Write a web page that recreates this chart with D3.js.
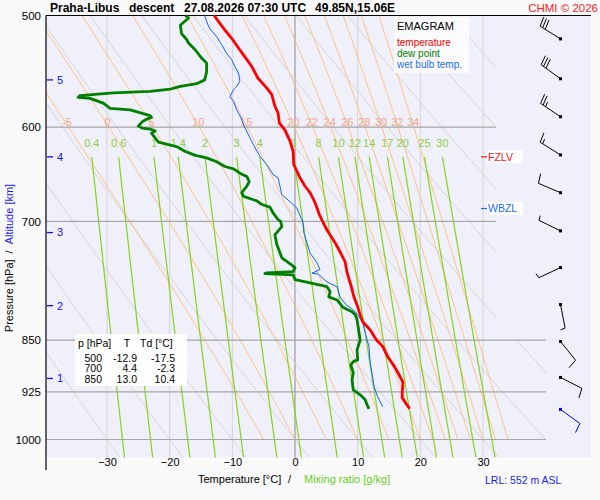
<!DOCTYPE html>
<html>
<head>
<meta charset="utf-8">
<script src="https://cdn.jsdelivr.net/npm/d3@7"></script>
<style>
  body { margin: 0; background: #fafafa; }
  svg { display: block; font-family: "Liberation Sans", Arial, sans-serif; }
</style>
</head>
<body>
<div id="emagram"></div>
<script>
// sounding: [pressure hPa, value degC]
const temperature = [[500,-12.9],[505,-12.2],[512,-11.2],[519,-10.1],[527.5,-9.0],[535,-8.0],[543.5,-6.9],[554,-5.9],[563,-4.5],[569,-3.7],[580,-3.2],[586.5,-2.7],[596,-2.5],[603,-1.6],[614,-0.8],[624.5,-0.3],[638,-0.2],[652,0.8],[661,1.6],[668,2.4],[679,3.2],[692.5,3.9],[700,4.4],[710,5.1],[725,6.4],[736,7.2],[748,8.0],[761,8.3],[776.5,8.9],[792,9.4],[805,10.0],[818,10.5],[825,10.8],[836,12.0],[850,13.0],[859,14.0],[873.5,14.8],[888,15.9],[899.5,16.6],[910,17.2],[917,17.2],[925,17.1],[934,17.1],[943,17.7],[951,18.3]];
const dewPoint = [[500,-17.5],[502,-17.0],[508,-18.3],[515,-18.1],[520,-17.3],[523,-17.0],[529,-15.9],[536,-14.9],[540.5,-14.1],[548,-14.1],[555.5,-14.4],[559,-15.7],[561.5,-18.3],[564,-19.9],[566,-23.1],[567.5,-29.0],[570,-34.3],[571.5,-34.6],[572.5,-32.7],[577,-30.6],[582,-29.5],[583.5,-26.3],[589,-23.1],[590.5,-22.9],[593,-23.9],[595,-24.4],[599,-25.0],[601,-24.4],[602,-23.1],[604,-22.3],[606,-22.9],[611,-22.3],[615,-21.8],[617,-20.5],[619.5,-18.9],[624.5,-17.5],[628.5,-15.9],[631,-14.1],[635,-12.5],[640,-11.2],[642.5,-9.8],[647,-8.8],[650.5,-7.7],[656,-7.3],[661,-7.7],[668,-8.5],[672,-8.2],[677,-6.1],[681,-5.3],[684,-4.0],[690.5,-3.5],[698,-2.7],[700,-2.3],[706,-2.1],[715.5,-3.2],[727,-2.9],[737,-2.4],[743,-2.1],[751.5,-0.6],[755,0.0],[760,-0.3],[761.5,-4.5],[762.5,-4.8],[764,-0.3],[770,0.0],[774,2.4],[779,5.1],[785,5.6],[792,5.4],[796,6.7],[806,7.7],[811.5,9.1],[815.5,9.6],[822,9.9],[850,10.4],[863.5,9.9],[878,10.0],[880.5,9.3],[885,8.9],[896.5,9.3],[907,9.1],[922,9.3],[929.5,10.4],[937,11.2],[945,11.5],[951,11.8]];
const wetBulb = [[500,-14.4],[505,-14.1],[511,-13.6],[517.5,-12.5],[524.5,-11.7],[532,-10.9],[537.5,-10.1],[543.5,-9.6],[549.5,-9.0],[557,-8.8],[561.5,-9.3],[564.5,-9.8],[571,-10.4],[575.5,-9.8],[583.5,-9.3],[590,-8.7],[598,-8.2],[614.5,-6.9],[629.5,-5.6],[638,-4.5],[648.5,-3.5],[652,-2.7],[670,-2.1],[676,-1.1],[685,0.3],[702,1.3],[713,1.4],[737,2.4],[749,3.5],[757.5,4.0],[762,2.7],[763,3.7],[773,5.1],[779,6.7],[792,7.2],[802,8.1],[809,9.3],[815.5,10.0],[826,10.8],[843,11.3],[859,11.8],[882,12.0],[904,12.4],[917,12.6],[932.5,13.2],[948,14.0]];

// wind barbs (bottom to top)
const windP   = [952, 903.5, 852, 802, 755, 711, 668, 628, 590, 554.5, 519.5];
const windDir = [126, 117, 141, 169, 245, 296, 293, 302, 304, 306, 302];
const windSpd = [10, 10, 10, 5, 5, 5, 10, 15, 25, 30, 30];

// altitude marks [km] and their pressure
const altKm = [1, 2, 3, 4, 5];
const altP  = [905, 803.5, 713, 630, 555.5];

const tableRows = [[500, "-12.9", "-17.5"], [700, "4.4", "-2.3"], [850, "13.0", "10.4"]];

const pressureLabels = [500, 600, 700, 850, 925, 1000];
const isobars = [600, 700, 850, 925, 1000];
const tempTicks = [-30, -20, -10, 0, 10, 20, 30];
const isotherms = [-30, -20, -10, 0, 10, 20, 30];
const dryThetas = [-30, -20, -10, 0, 10, 20, 30, 40, 50, 60, 70, 80, 90, 100, 110];
const wetThetas = [-5, 0, 5, 10, 15, 20, 22, 24, 26, 28, 30, 32, 34];
const mixRatios = [0.4, 0.6, 1, 1.4, 2, 3, 4, 6, 8, 10, 12, 14, 17, 20, 25, 30];

const FZLV = 630, WBZL = 685.5;

const W = 600, H = 500;
const xLeft = 46, yTop = 15.5, xRight = 546, bgRight = 591, bottomP = 1030;

const x = d3.scaleLinear().domain([-30, 30]).range([107, 483]);
const y = d3.scaleLog().domain([500, 1000]).range([yTop, 439.5]);
const yBottom = y(bottomP);

const svg = d3.select("#emagram").append("svg")
    .attr("width", W).attr("height", H);

svg.append("rect").attr("x", xLeft).attr("y", yTop)
    .attr("width", bgRight - xLeft).attr("height", yBottom - yTop)
    .attr("fill", "#f0f0fb");

// grid is cut at the right: 40 C below 850 hPa, ~32 C above
svg.append("clipPath").attr("id", "grid-clip")
  .append("polygon")
    .attr("points", [[xLeft, yTop], [496, yTop], [496, y(850)], [xRight, y(850)], [xRight, yBottom], [xLeft, yBottom]].join(" "));

const grid = svg.append("g").attr("clip-path", "url(#grid-clip)");
const line = d3.line().x(d => x(d[1])).y(d => y(d[0]));

// thermodynamics for the background lines
const esat = tc => 6.112 * Math.exp(17.67 * tc / (tc + 243.5));
function moistLapse(p, tk) {
  const es = esat(tk - 273.15), rs = 0.622 * es / (p - es);
  const Rd = 287.04, cp = 1005.7, Lv = 2.501e6;
  return (Rd * tk + Lv * rs) / (p * (cp + Lv * Lv * rs * 0.622 / (Rd * tk * tk)));
}
function pseudoAdiabat(thw) {
  const pts = [];
  let tk = thw + 273.15;
  for (let p = 1000; p >= 498; p -= 2) {
    pts.push([p, tk - 273.15]);
    const k1 = moistLapse(p, tk);
    const k2 = moistLapse(p - 1, tk - k1);
    tk -= 2 * k2;
  }
  return pts;
}
const dryAdiabat = th => d3.range(495, bottomP + 5, 5).map(p => [p, (th + 273.15) * Math.pow(p / 1000, 0.2857) - 273.15]);
function mixLine(w) {
  return d3.range(630, bottomP + 5, 5).map(p => {
    const l = Math.log(w * p / (622 + w) / 6.112);
    return [p, 243.5 * l / (17.67 - l)];
  });
}

// isotherms
grid.selectAll(".iso").data(isotherms).join("line")
    .attr("x1", d => x(d)).attr("x2", d => x(d))
    .attr("y1", yTop).attr("y2", yBottom)
    .attr("stroke", d => d === 0 ? "#8a8a8a" : "#d4d4d4").attr("stroke-width", 1);

// dry adiabats
grid.selectAll(".dry").data(dryThetas).join("path")
    .attr("d", d => line(dryAdiabat(d)))
    .attr("fill", "none").attr("stroke", "#d4d4d4").attr("stroke-width", 1);

// saturated adiabats
const wetLines = wetThetas.map(t => pseudoAdiabat(t));
grid.selectAll(".wet").data(wetLines).join("path")
    .attr("d", d => line(d))
    .attr("fill", "none").attr("stroke", "#ffbf80").attr("stroke-width", 1);

// mixing ratio lines
grid.selectAll(".mix").data(mixRatios).join("path")
    .attr("d", d => line(mixLine(d)))
    .attr("fill", "none").attr("stroke", "#86d21a").attr("stroke-width", 1.2);

// isobars
svg.selectAll(".isobar").data(isobars).join("line")
    .attr("x1", xLeft).attr("x2", d => d >= 850 ? xRight : 496)
    .attr("y1", d => y(d)).attr("y2", d => y(d))
    .attr("stroke", "#a6a6a6").attr("stroke-width", 1.2);

// labels of the background lines
svg.selectAll(".wetLab").data(wetLines).join("text")
    .attr("x", d => x(d.find(e => e[0] <= 598)[1]))
    .attr("y", y(600) - 1.5)
    .attr("text-anchor", "middle").attr("font-size", 11).attr("fill", "#f5a58c")
    .text((d, i) => wetThetas[i]);

svg.selectAll(".mixLab").data(mixRatios).join("text")
    .attr("x", d => x(mixLine(d)[0][1]))
    .attr("y", 147)
    .attr("text-anchor", "middle").attr("font-size", 11).attr("fill", "#8ccf3c")
    .text(d => d);

// frame
svg.append("line").attr("x1", xLeft).attr("x2", bgRight).attr("y1", yTop).attr("y2", yTop)
    .attr("stroke", "#000").attr("stroke-width", 1.2);
svg.append("line").attr("x1", xLeft).attr("x2", xLeft).attr("y1", yTop).attr("y2", 470)
    .attr("stroke", "#000").attr("stroke-width", 1.2);

// axes
const yAxis = svg.append("g").attr("transform", `translate(${xLeft},0)`)
    .call(d3.axisLeft(y).tickValues(pressureLabels).tickFormat(d3.format("d")).tickSize(0).tickPadding(5));
yAxis.select(".domain").remove();
yAxis.selectAll("text").attr("font-size", 11.5).attr("font-family", null).attr("fill", "#000");

const xAxis = svg.append("g").attr("transform", "translate(0,456)")
    .call(d3.axisBottom(x).tickValues(tempTicks).tickSize(0).tickPadding(2));
xAxis.select(".domain").remove();
xAxis.selectAll("text").attr("font-size", 11).attr("font-family", null).attr("fill", "#000");

// altitude marks
const alt = svg.append("g").selectAll("g").data(altKm).join("g")
    .attr("transform", (d, i) => `translate(${xLeft},${y(altP[i])})`);
alt.append("line").attr("x1", 1).attr("x2", 7).attr("stroke", "#1010ff").attr("stroke-width", 1.3);
alt.append("text").attr("x", 11).attr("dy", "0.35em").attr("font-size", 11).attr("fill", "#1010ff").text(d => d);

// sounding curves
svg.append("path").attr("d", line(wetBulb))
    .attr("fill", "none").attr("stroke", "#0a64ff").attr("stroke-width", 1);
svg.append("path").attr("d", line(dewPoint))
    .attr("fill", "none").attr("stroke", "#008000").attr("stroke-width", 2.8).attr("stroke-linejoin", "round");
svg.append("path").attr("d", line(temperature))
    .attr("fill", "none").attr("stroke", "#ff0000").attr("stroke-width", 2.8).attr("stroke-linejoin", "round");

// freezing / wet bulb zero levels
[[FZLV, "FZLV", "#ff1010"], [WBZL, "WBZL", "#1a6cff"]].forEach(([p, name, c]) => {
  svg.append("line").attr("x1", 481).attr("x2", 487).attr("y1", y(p)).attr("y2", y(p))
      .attr("stroke", c).attr("stroke-width", 1.2);
  svg.append("rect").attr("x", 487).attr("y", y(p) - 6.5).attr("width", 36).attr("height", 13).attr("fill", "#fff");
  svg.append("text").attr("x", 488).attr("y", y(p)).attr("dy", "0.35em")
      .attr("font-size", 10.5).attr("fill", c).text(name);
});

// legend
svg.append("rect").attr("x", 394).attr("y", 17).attr("width", 75).attr("height", 56).attr("fill", "#fbfbfd");
svg.append("text").attr("x", 397).attr("y", 30).attr("font-size", 11).text("EMAGRAM");
[["temperature", "#ff0000"], ["dew point", "#008000"], ["wet bulb temp.", "#1a6cff"]].forEach(([t, c], i) => {
  svg.append("text").attr("x", 397).attr("y", 45.5 + i * 11.3).attr("font-size", 10).attr("fill", c).text(t);
});

// table
svg.append("rect").attr("x", 75).attr("y", 334).attr("width", 112).attr("height", 52).attr("fill", "#fff");
const tab = svg.append("g").attr("font-size", 10.5);
tab.append("text").attr("x", 78).attr("y", 347).text("p [hPa]");
tab.append("text").attr("x", 127).attr("y", 347).attr("text-anchor", "middle").text("T");
tab.append("text").attr("x", 140).attr("y", 347).text("Td [°C]");
tab.selectAll(".row").data(tableRows).join("g")
    .attr("transform", (d, i) => `translate(0,${361.5 + i * 10.5})`)
    .each(function(d) {
      const g = d3.select(this);
      g.append("text").attr("x", 102).attr("text-anchor", "end").text(d[0]);
      g.append("text").attr("x", 137).attr("text-anchor", "end").text(d[1]);
      g.append("text").attr("x", 175).attr("text-anchor", "end").text(d[2]);
    });

// wind barbs
const bx = 560.5, shaft = 24, rot = 80 * Math.PI / 180;
windP.forEach((p, i) => {
  const a = windDir[i] * Math.PI / 180;
  const ux = Math.sin(a), uy = -Math.cos(a);
  const fx = ux * Math.cos(rot) - uy * Math.sin(rot), fy = ux * Math.sin(rot) + uy * Math.cos(rot);
  const y0 = y(p), c = i === 0 ? "#0000ff" : "#000";
  let d = `M${bx},${y0}L${bx + ux * shaft},${y0 + uy * shaft}`;
  let s = windSpd[i], pos = shaft;
  while (s >= 10) {
    const px = bx + ux * pos, py = y0 + uy * pos;
    d += `M${px},${py}L${px + fx * 10},${py + fy * 10}`;
    pos -= 3; s -= 10;
  }
  if (s >= 5) {
    const px = bx + ux * pos, py = y0 + uy * pos;
    d += `M${px},${py}L${px + fx * 5},${py + fy * 5}`;
  }
  svg.append("path").attr("d", d).attr("fill", "none").attr("stroke", c).attr("stroke-width", 1);
  svg.append("rect").attr("x", bx - 1.5).attr("y", y0 - 1.5).attr("width", 3).attr("height", 3).attr("fill", c);
});

// titles
const title = svg.append("text").attr("y", 12).attr("font-size", 12).attr("font-weight", "bold");
title.append("tspan").attr("x", 50).text("Praha-Libus");
title.append("tspan").attr("x", 129).text("descent");
title.append("tspan").attr("x", 184).text("27.08.2026 07:30 UTC");
title.append("tspan").attr("x", 315).text("49.85N,15.06E");
svg.append("text").attr("x", 598).attr("y", 12).attr("text-anchor", "end")
    .attr("font-size", 11.5).attr("fill", "#ff2020").text("CHMI © 2026");

const xt = svg.append("text").attr("y", 483).attr("font-size", 11);
xt.append("tspan").attr("x", 198).text("Temperature [°C]");
xt.append("tspan").attr("x", 288).text("/");
xt.append("tspan").attr("x", 304).attr("fill", "#66d020").text("Mixing ratio [g/kg]");

svg.append("text").attr("x", 485).attr("y", 484).attr("font-size", 10.5).attr("fill", "#1a1aff").text("LRL: 552 m ASL");

const yt = svg.append("text").attr("transform", "translate(13,258) rotate(-90)")
    .attr("text-anchor", "middle").attr("font-size", 11);
yt.append("tspan").text("Pressure [hPa]");
yt.append("tspan").attr("dx", 6).text("/");
yt.append("tspan").attr("dx", 6).attr("fill", "#1a1aff").text("Altitude [km]");
</script>
</body>
</html>
